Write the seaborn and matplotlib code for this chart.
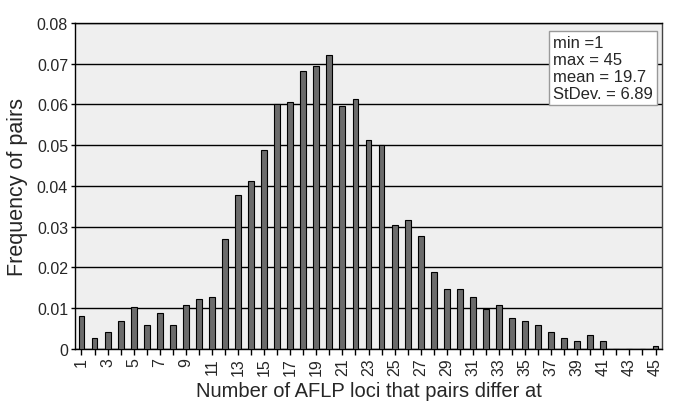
import matplotlib
matplotlib.use('Agg')
import matplotlib.pyplot as plt
import seaborn as sns
import pandas as pd

# loci differing (1..45) and frequency of pairs
loci = list(range(1, 46))
freq = [0.0080, 0.0027, 0.0041, 0.0068, 0.0102, 0.0060, 0.0088, 0.0060, 0.0108, 0.0123,
        0.0128, 0.0271, 0.0377, 0.0412, 0.0488, 0.0600, 0.0607, 0.0682, 0.0694, 0.0722,
        0.0595, 0.0614, 0.0512, 0.0501, 0.0304, 0.0317, 0.0277, 0.0190, 0.0147, 0.0147,
        0.0128, 0.0097, 0.0108, 0.0075, 0.0068, 0.0060, 0.0041, 0.0028, 0.0020, 0.0035,
        0.0020, 0.0, 0.0, 0.0, 0.0008]
stats_text = "min =1\nmax = 45\nmean = 19.7\nStDev. = 6.89"

df = pd.DataFrame({'loci': [str(v) for v in loci], 'freq': freq})

sns.set_style('white')
plt.rcParams['font.family'] = ['Liberation Sans', 'DejaVu Sans']

fig = plt.figure(figsize=(6.73, 4.06), dpi=100)
ax = fig.add_axes([0.1114, 0.138, 0.8723, 0.803])
ax.set_facecolor('#efefef')

sns.barplot(data=df, x='loci', y='freq', color='#6b6b6b', edgecolor='black',
            linewidth=0.8, width=0.45, saturation=1, ax=ax, zorder=3)

ax.set_ylim(0, 0.08)
ax.set_xlim(-0.5, len(loci) - 0.5)
ax.set_yticks([i / 100 for i in range(9)])
ax.set_yticklabels(['0'] + ['%.2f' % (i / 100) for i in range(1, 9)], fontsize=11.5)
ax.yaxis.grid(True, color='black', linewidth=1.0, zorder=1)
ax.set_axisbelow(True)

ax.set_xticks(range(len(loci)))
ax.set_xticklabels([str(v) if v % 2 == 1 else '' for v in loci], rotation=90, fontsize=11.5)
ax.tick_params(axis='x', length=4, width=1, color='black', bottom=True, pad=2)
ax.tick_params(axis='y', length=3, width=1, color='black', left=True, pad=2)

for s in ax.spines.values():
    s.set_color('black')
    s.set_linewidth(1.0)
ax.spines['right'].set_color('#444444')

ax.set_xlabel('Number of AFLP loci that pairs differ at', fontsize=14.5, labelpad=4)
ax.set_ylabel('Frequency of pairs', fontsize=15.5, labelpad=6)

ax.text(0.815, 0.962, stats_text, transform=ax.transAxes, fontsize=12, va='top', ha='left',
        linespacing=1.15, zorder=5,
        bbox=dict(boxstyle='square,pad=0.25', facecolor='white', edgecolor='#999999', linewidth=1))

fig.savefig('out.png', dpi=100)
